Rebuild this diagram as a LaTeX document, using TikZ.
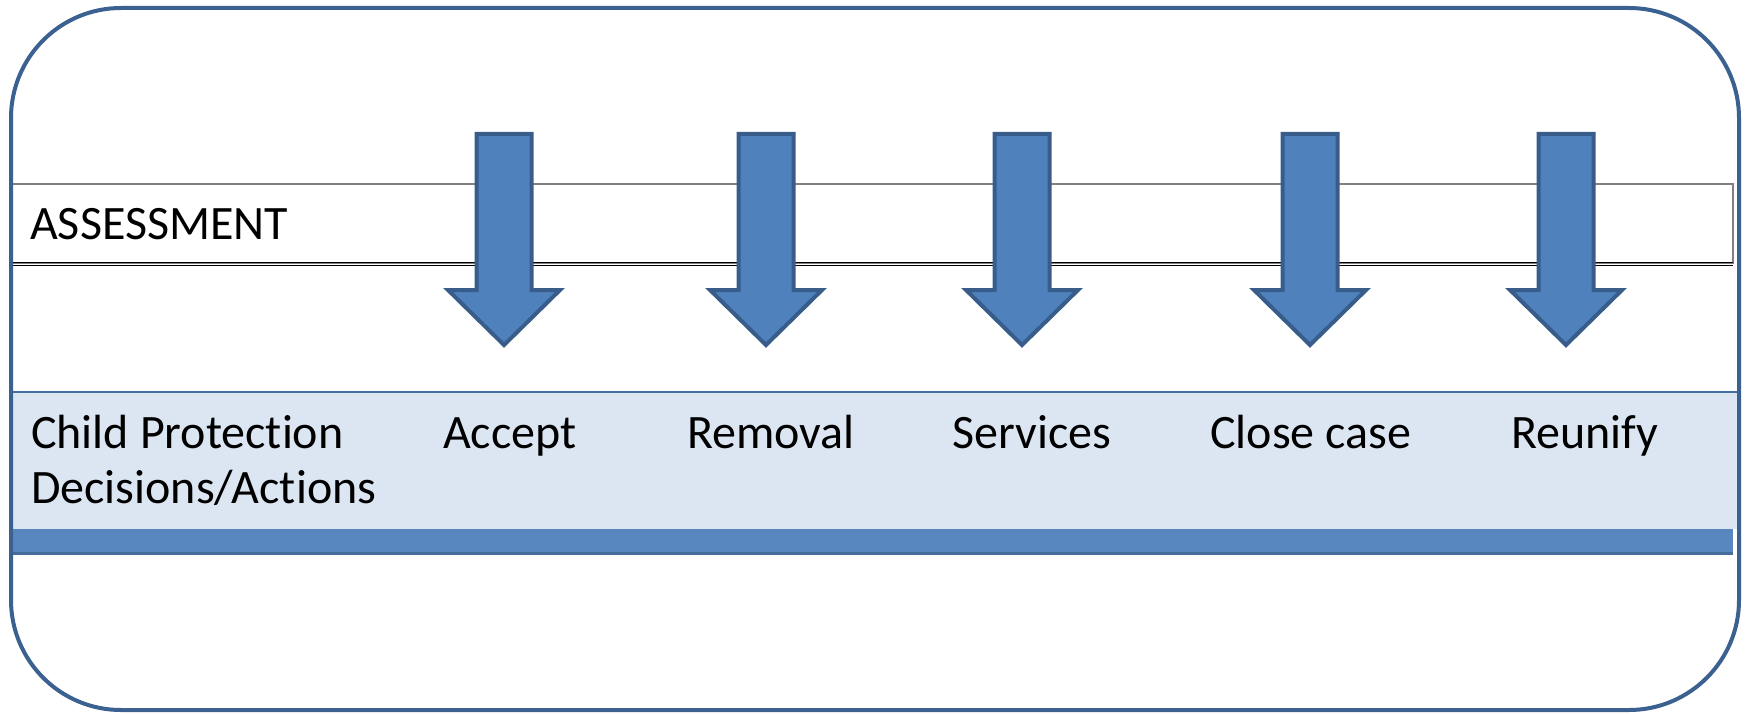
\documentclass[tikz,border=0pt]{standalone}
\usepackage{fontspec}
\setmainfont{Carlito}[Ligatures=NoCommon]
\definecolor{borderblue}{RGB}{59,97,144}
\definecolor{arrowfill}{RGB}{79,129,189}
\definecolor{arrowdraw}{RGB}{56,93,138}
\definecolor{bandlight}{RGB}{220,230,242}
\definecolor{banddark}{RGB}{88,135,192}
\definecolor{bandedge}{RGB}{70,108,158}
\definecolor{boxgray}{RGB}{128,128,128}
\tikzset{
  lbl/.style={anchor=base west, inner sep=0pt, font=\fontsize{48}{55}\selectfont, text=black},
  downarrow/.style={fill=arrowfill, draw=arrowdraw, line width=4pt, line join=miter},
  bigarrow/.pic={
    \path[downarrow] (-27.5,0) -- (27.5,0) -- (27.5,156) -- (56,156) -- (0,211) -- (-56,156) -- (-27.5,156) -- cycle;
  }
}
\begin{document}
\begin{tikzpicture}[x=1pt,y=-1pt]
\useasboundingbox (0,0) rectangle (1750,714);
% assessment box
\draw[boxgray, line width=2.5pt] (10,184) rectangle (1733,263);
\draw[black, line width=1pt] (10,262) -- (1733,262);
\draw[black, line width=1pt] (10,265) -- (1733,265);
\draw[black!80, line width=1.5pt] (10,184) -- (10,265);
\node[lbl] (assess) at (30,240) {ASSESSMENT};
% arrows
\pic at (504,134) {bigarrow};
\pic at (766,134) {bigarrow};
\pic at (1022,134) {bigarrow};
\pic at (1310,134) {bigarrow};
\pic at (1566,134) {bigarrow};
% bands
\fill[banddark] (10,520) rectangle (1733,552);
\draw[bandedge, line width=3pt] (10,553) -- (1733,553);
\fill[bandlight] (10,392) rectangle (1738,529);
\draw[arrowfill!85!black, line width=2.5pt] (10,392) -- (1738,392);
% labels
\node[lbl] (cp) at (31,448) {\begin{tabular}[t]{@{}l@{}}Child Protection\\Decisions/Actions\end{tabular}};
\node[lbl] (accept) at (443,448) {Accept};
\node[lbl] (removal) at (687,448) {Removal};
\node[lbl] (services) at (952,448) {Services};
\node[lbl] (close) at (1210,448) {Close case};
\node[lbl] (reunify) at (1511,448) {Reunify};
% outer frame
\draw[borderblue, line width=4pt, rounded corners=110pt] (11,8) rectangle (1739,710);
\end{tikzpicture}
\end{document}
